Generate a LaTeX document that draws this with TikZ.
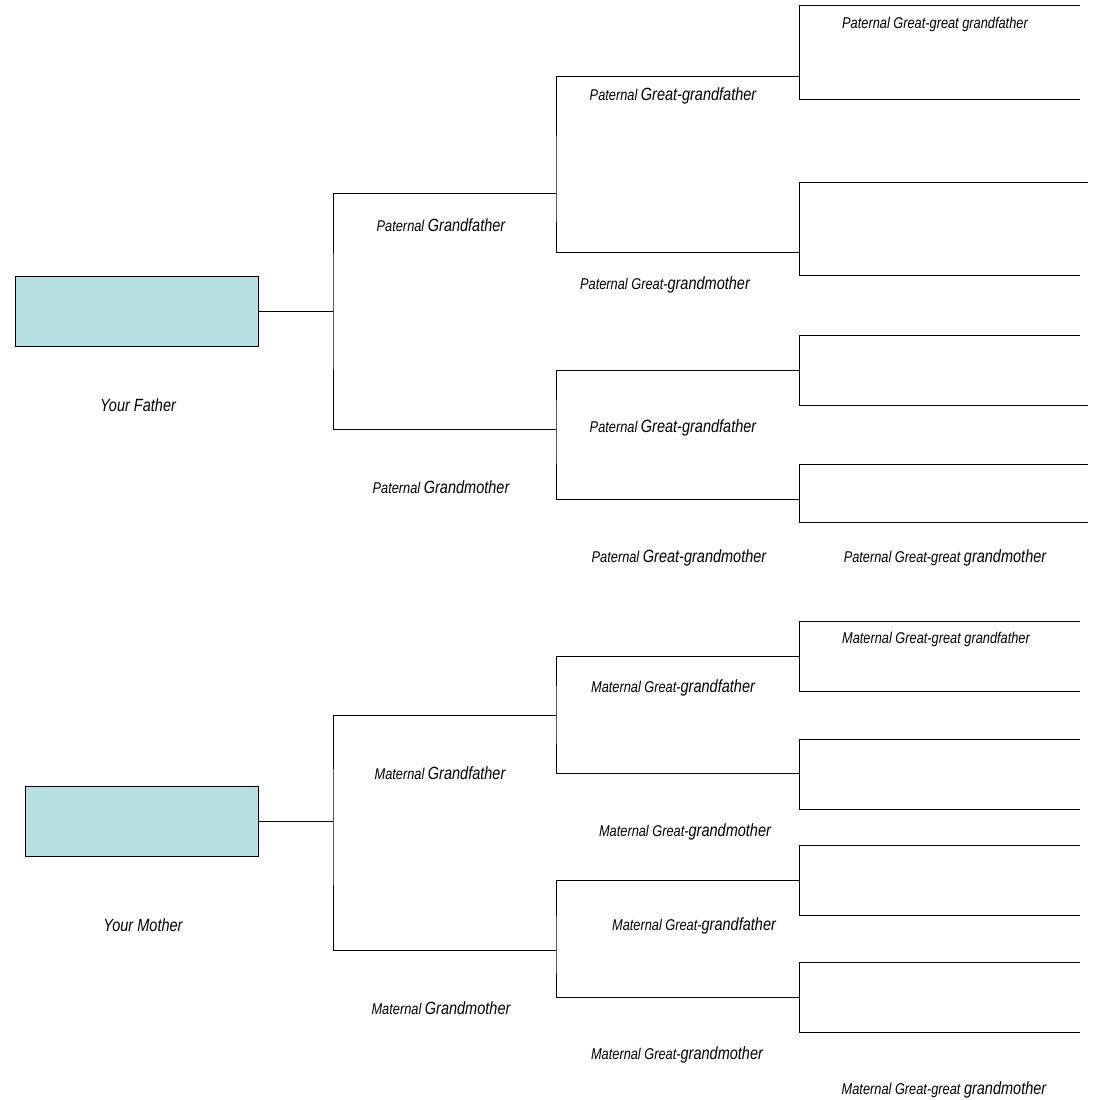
\documentclass[tikz,border=0pt]{standalone}
\usepackage{fontspec}
\setmainfont{Liberation Sans}[FakeStretch=0.82]
\definecolor{boxblue}{RGB}{184,223,226}
\newcommand{\bigw}[1]{{\fontsize{17.7}{19}\selectfont #1}}

\begin{document}
\begin{tikzpicture}
  [
    x=1pt,
    y=-1pt,
    line width=1pt,
    parent/.style={
      draw,
      fill=boxblue,
      minimum width=243pt,
      minimum height=70pt,
      inner sep=0pt
    },
    lbl/.style={
      font=\fontsize{15.6}{17}\selectfont\itshape,
      inner sep=0pt
    }
  ]

  \useasboundingbox (0,0) rectangle (1092,1100);

  % parents
  \node [parent] (fa) at (136.5,311) {};
  \node [parent,minimum width=233pt] (mo) at (141.5,821) {};
  \node [lbl] (fa-l) at (138,405) {\bigw{Your Father}};
  \node [lbl] (mo-l) at (143,925) {\bigw{Your Mother}};

  % grandparents
  \coordinate (pj) at (333,311);
  \coordinate (pgf) at (556,193);
  \coordinate (pgm) at (556,429);
  \coordinate (mj) at (333,821);
  \coordinate (mgf) at (556,715);
  \coordinate (mgm) at (556,950);
  \draw (fa.east) -- (pj);
  \draw (mo.east) -- (mj);
  \draw (pgf) -| (pj) |- (pgm);
  \draw (mgf) -| (mj) |- (mgm);

  % great-grandparents
  \foreach \g/\f/\m in {pgf/76/252, pgm/370/499, mgf/656/773, mgm/880/997} {
      \draw (799,\f) coordinate (\g1) -| (\g) |- (799,\m) coordinate (\g2);
  }

  % great-great-grandparents
  \foreach \g/\a/\ea/\b/\eb in {pgf1/5/1080/99/1080, pgf2/182/1088/275/1080,
      pgm1/335/1080/405/1088, pgm2/464/1088/522/1088,
      mgf1/621/1080/691/1080, mgf2/739/1080/809/1080,
      mgm1/845/1080/915/1080, mgm2/962/1080/1032/1080} {
      \draw (\ea,\a) coordinate (\g-a) -| (\g) |- (\eb,\b) coordinate (\g-b);
  }

  % labels
  \node [lbl] (pgf-l) at (441,225) {Paternal \bigw{Grandfather}};
  \node [lbl] (pgm-l) at (441,487) {Paternal \bigw{Grandmother}};
  \node [lbl] (pgf1-l) at (673,96) {Paternal \bigw{Great-grandfather}};
  \node [lbl] (pgf2-l) at (665,285) {Paternal Great-\bigw{grandmother}};
  \node [lbl] (pgm1-l) at (673,428) {Paternal \bigw{Great-grandfather}};
  \node [lbl] (pgm2-l) at (679,558) {Paternal \bigw{Great-grandmother}};
  \node [lbl] (pgf1a-l) at (935,24) {Paternal Great-great grandfather};
  \node [lbl] (pgm2b-l) at (945,558) {Paternal Great-great \bigw{grandmother}};

  \node [lbl] (mgf-l) at (440,773) {Maternal \bigw{Grandfather}};
  \node [lbl] (mgm-l) at (441,1008) {Maternal \bigw{Grandmother}};
  \node [lbl] (mgf1-l) at (673,688) {Maternal Great-\bigw{grandfather}};
  \node [lbl] (mgf2-l) at (685,832) {Maternal Great-\bigw{grandmother}};
  \node [lbl] (mgm1-l) at (694,926) {Maternal Great-\bigw{grandfather}};
  \node [lbl] (mgm2-l) at (677,1055) {Maternal Great-\bigw{grandmother}};
  \node [lbl] (mgf1a-l) at (936,639) {Maternal Great-great grandfather};
  \node [lbl] (mgm2b-l) at (944,1090) {Maternal Great-great \bigw{grandmother}};

\end{tikzpicture}
\end{document}
